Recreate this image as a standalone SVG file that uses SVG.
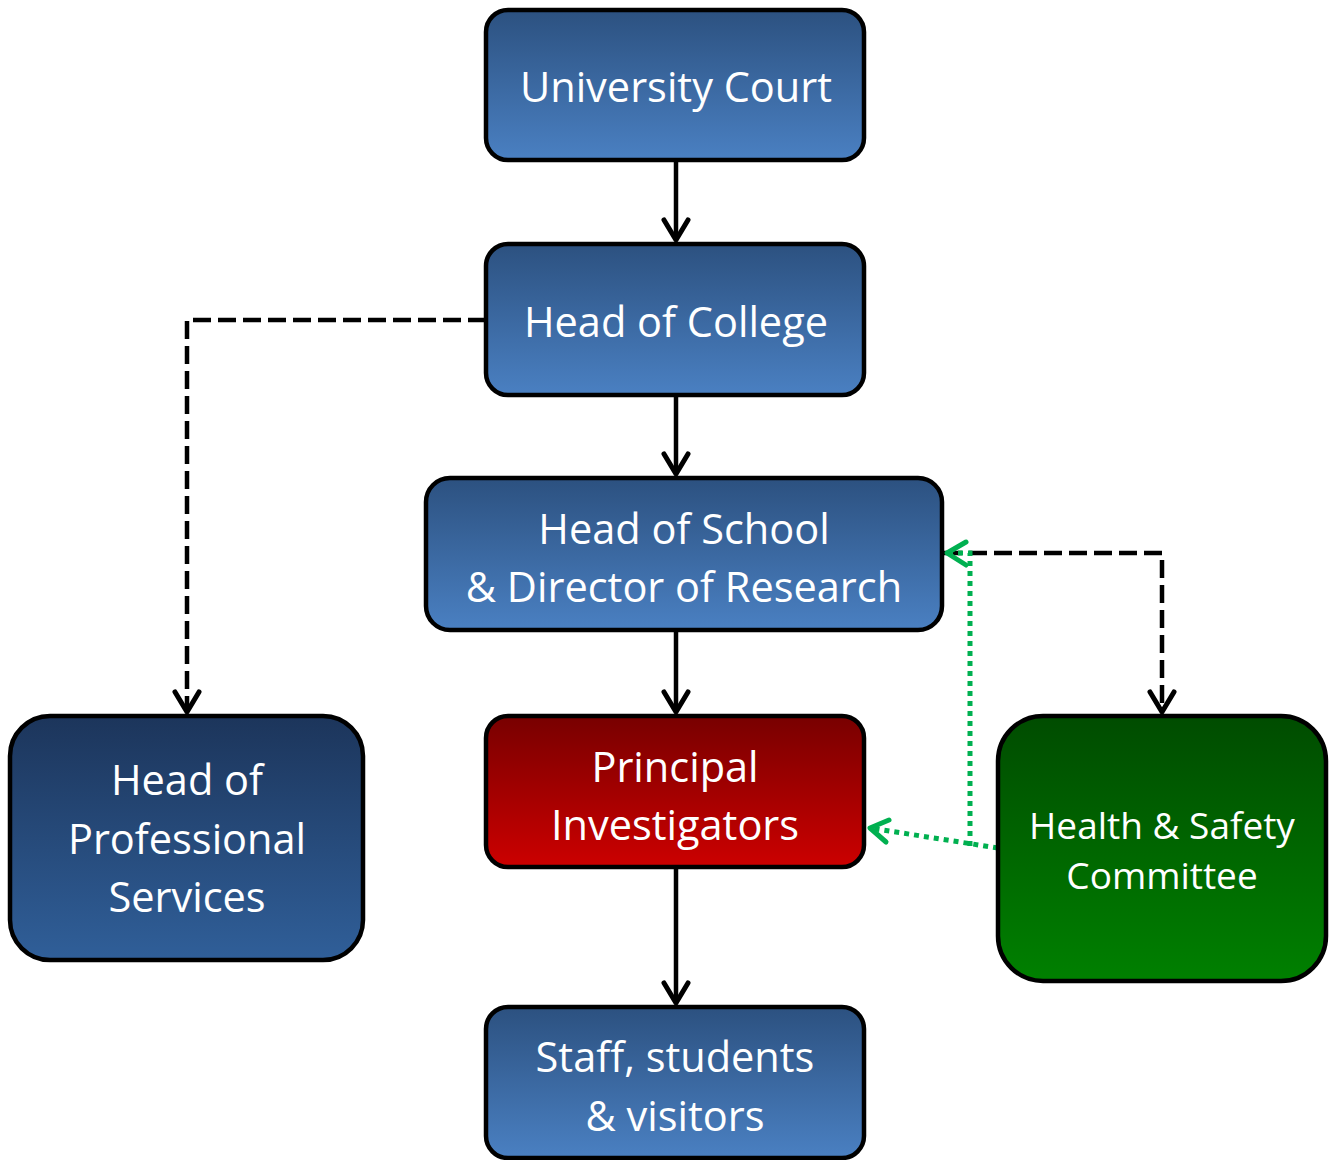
<svg xmlns="http://www.w3.org/2000/svg" width="1331" height="1160" viewBox="0 0 1331 1160">
<defs>
<linearGradient id="gBlue" x1="0" y1="0" x2="0" y2="1"><stop offset="0" stop-color="#2c5180"/><stop offset="1" stop-color="#4a80c2"/></linearGradient>
<linearGradient id="gDark" x1="0" y1="0" x2="0" y2="1"><stop offset="0" stop-color="#1c355b"/><stop offset="1" stop-color="#305f99"/></linearGradient>
<linearGradient id="gRed" x1="0" y1="0" x2="0" y2="1"><stop offset="0" stop-color="#780000"/><stop offset="1" stop-color="#cc0000"/></linearGradient>
<linearGradient id="gGreen" x1="0" y1="0" x2="0" y2="1"><stop offset="0" stop-color="#004c00"/><stop offset="1" stop-color="#008000"/></linearGradient>
<style>
.box{stroke:#000;stroke-width:4.5}
.t{font-family:"Open Sans","Noto Sans",sans-serif;font-size:41.5px;fill:#fff;text-anchor:middle}
.solid{fill:none;stroke:#000;stroke-width:4.5}
.dash{fill:none;stroke:#000;stroke-width:4.5;stroke-dasharray:18 7}
.dot{fill:none;stroke:#00b050;stroke-width:5;stroke-dasharray:5 5}
.ah{fill:none;stroke:#000;stroke-width:5;stroke-linecap:round;stroke-linejoin:round}
.ahg{fill:none;stroke:#00b050;stroke-width:5;stroke-linecap:round;stroke-linejoin:round}
</style>
</defs>
<g id="connectors">
<line class="solid" x1="676" y1="161" x2="676" y2="240"/>
<polyline class="ah" points="664,220 676,240 688,220"/>
<line class="solid" x1="676" y1="396" x2="676" y2="474"/>
<polyline class="ah" points="664,454 676,474 688,454"/>
<line class="solid" x1="676" y1="631" x2="676" y2="712"/>
<polyline class="ah" points="664,692 676,712 688,692"/>
<line class="solid" x1="676" y1="868" x2="676" y2="1003"/>
<polyline class="ah" points="664,983 676,1003 688,983"/>
<path class="dash" d="M486,320 H187 V712"/>
<polyline class="ah" points="175,692 187,712 199,692"/>
<path class="dash" d="M944,553 H1162 V712"/>
<polyline class="ah" points="1150,692 1162,712 1174,692"/>
<path class="dot" d="M998,848 L870,828"/>
<polyline class="ahg" points="889,820 870,828 886,842"/>
<path class="dot" d="M970,846 V553 H947"/>
<polyline class="ahg" points="966,542 947,553 966,565"/>
</g>
<g id="university-court">
<rect class="box" x="486" y="10" width="378" height="150" rx="22" fill="url(#gBlue)"/>
<text class="t" x="676" y="102">University Court</text>
</g>
<g id="head-of-college">
<rect class="box" x="486" y="244" width="378" height="151" rx="22" fill="url(#gBlue)"/>
<text class="t" x="676" y="337">Head of College</text>
</g>
<g id="head-of-school">
<rect class="box" x="426" y="478" width="516" height="152" rx="24" fill="url(#gBlue)"/>
<text class="t" x="684" y="544">Head of School</text>
<text class="t" x="684" y="602">&amp; Director of Research</text>
</g>
<g id="principal-investigators">
<rect class="box" x="486" y="716" width="378" height="151" rx="22" fill="url(#gRed)"/>
<text class="t" x="675" y="782">Principal</text>
<text class="t" x="675" y="840">Investigators</text>
</g>
<g id="head-of-professional-services">
<rect class="box" x="10" y="716" width="353" height="244" rx="40" fill="url(#gDark)"/>
<text class="t" x="187" y="795">Head of</text>
<text class="t" x="187" y="854">Professional</text>
<text class="t" x="187" y="912">Services</text>
</g>
<g id="health-safety-committee">
<rect class="box" x="998" y="716" width="328" height="265" rx="45" fill="url(#gGreen)"/>
<text class="t" x="1162" y="839" style="font-size:37px">Health &amp; Safety</text>
<text class="t" x="1162" y="889" style="font-size:37px">Committee</text>
</g>
<g id="staff-students-visitors">
<rect class="box" x="486" y="1007" width="378" height="151" rx="22" fill="url(#gBlue)"/>
<text class="t" x="675" y="1072">Staff, students</text>
<text class="t" x="675" y="1131">&amp; visitors</text>
</g>
</svg>
